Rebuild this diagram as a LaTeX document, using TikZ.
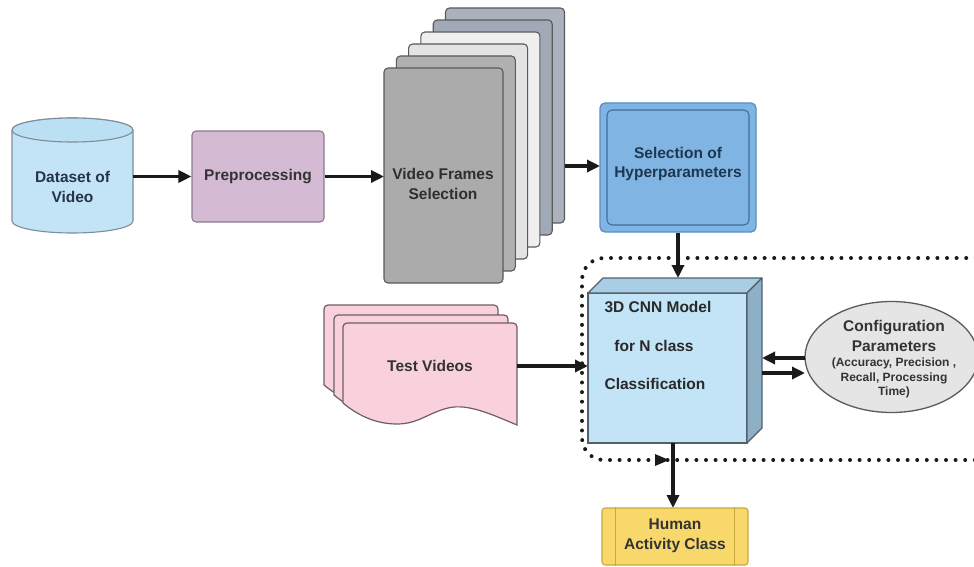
\documentclass[tikz,border=0pt]{standalone}
\usepackage{fontspec}
\setmainfont{Liberation Sans}
\usetikzlibrary{arrows.meta,calc,shapes.geometric}
\definecolor{cylfill}{HTML}{C2E4F6}
\definecolor{cyltop}{HTML}{BCE0F3}
\definecolor{cylline}{HTML}{7D8E98}
\definecolor{prefill}{HTML}{D5BAD4}
\definecolor{preline}{HTML}{8C7C8C}
\definecolor{frA}{HTML}{ABABAB}
\definecolor{frB}{HTML}{B0B0B0}
\definecolor{frC}{HTML}{E3E3E3}
\definecolor{frD}{HTML}{EFEFEF}
\definecolor{frE}{HTML}{A2A9B6}
\definecolor{frF}{HTML}{ABB1BD}
\definecolor{frline}{HTML}{5A5A5A}
\definecolor{hypfill}{HTML}{80B5E3}
\definecolor{hypline}{HTML}{5B8EC2}
\definecolor{hypinner}{HTML}{3F6F9C}
\definecolor{cubefront}{HTML}{C3E4F6}
\definecolor{cubetopc}{HTML}{A8CDE4}
\definecolor{cuberight}{HTML}{8DB0C7}
\definecolor{cubeline}{HTML}{51616C}
\definecolor{conffill}{HTML}{E5E5E5}
\definecolor{confline}{HTML}{5A5A5A}
\definecolor{docfill}{HTML}{F9D1DD}
\definecolor{docline}{HTML}{6E5E64}
\definecolor{humfill}{HTML}{F8D76B}
\definecolor{humline}{HTML}{C9A840}
\definecolor{txtgray}{HTML}{333333}
\definecolor{txtblue}{HTML}{1F3650}
\definecolor{arrcol}{HTML}{1A1A1A}
\begin{document}
\begin{tikzpicture}[x=1pt,y=-1pt,
  txt/.style={font=\fontsize{15.5}{19.5}\selectfont\bfseries, text=txtgray, align=center, inner sep=0pt},
  smalltxt/.style={font=\fontsize{12}{14.5}\selectfont\bfseries, text=txtgray, align=center, inner sep=0pt},
  arr/.style={line width=3.3pt, draw=arrcol, -{Triangle[length=13pt,width=12pt]}},
  framebox/.style={draw=frline, line width=1.1pt, rounded corners=4, minimum width=119, minimum height=215, inner sep=0pt, outer sep=0pt},
  docst/.style={draw=docline, fill=docfill, line width=1.2pt},
  dotline/.style={draw=arrcol, line width=4pt, line cap=round, dash pattern=on 0pt off 9.6pt}
  ]
\useasboundingbox (0,0) rectangle (974,567);
\clip (0,0) rectangle (974,567);
\fill[white] (0,0) rectangle (974,567);

% ---------- cylinder: Dataset of Video ----------
\filldraw[fill=cylfill, draw=cylline, line width=1.1pt]
  (12,130) -- (12,221) arc[start angle=180, end angle=0, x radius=60.5, y radius=12]
  -- (133,130) arc[start angle=360, end angle=180, x radius=60.5, y radius=12] -- cycle;
\filldraw[fill=cyltop, draw=cylline, line width=1.1pt] (72.5,130) ellipse[x radius=60.5, y radius=12];
\node[txt, text=txtblue!70!txtgray, minimum width=121, minimum height=100] (data) at (72.5,187) {Dataset of\\Video};

% ---------- Preprocessing ----------
\node[txt, draw=preline, fill=prefill, line width=1.1pt, rounded corners=4,
      minimum width=132, minimum height=91] (pre) at (258,176.5) {Preprocessing};

% ---------- Video frames stack ----------
\foreach \k/\c in {5/frF,4/frE,3/frD,2/frC,1/frB}{
  \node[framebox, fill=\c] (fr\k) at ({443.5+12.3*\k},{175.5-12*\k}) {};
}
\node[framebox, fill=frA] (frames) at (443.5,175.5) {};
\node[txt, text=txtgray!90!black] (framestxt) at (443,184) {Video Frames\\Selection};

% ---------- Hyperparameters ----------
\node[draw=hypline, fill=hypfill, line width=1.3pt, rounded corners=5,
      minimum width=156, minimum height=129, inner sep=0pt] (hyp) at (678,167.5) {};
\node[draw=hypinner, line width=1.1pt, rounded corners=5,
      minimum width=142, minimum height=115, inner sep=0pt] (hypbox) at (678,167.5) {};
\node[txt, text=txtblue] (hyptxt) at (678,164) {Selection of\\Hyperparameters};

% ---------- dotted loop ----------
\draw[dotline, rounded corners=22] (995,258) -- (582,258) -- (582,460) -- (995,460);
\fill[arrcol] (655,454) -- (669,460) -- (655,466) -- cycle;

% ---------- 3D CNN cube ----------
\node[fill=cubefront, draw=cubeline, line width=1.1pt, minimum width=159, minimum height=150,
      inner sep=0pt, outer sep=0pt] (cnn) at (667.5,368) {};
\filldraw[fill=cubetopc, draw=cubeline, line width=1.1pt, line join=round]
  (cnn.north west) -- ++(15,-15) -- ++(159,0) -- (cnn.north east) -- cycle;
\filldraw[fill=cuberight, draw=cubeline, line width=1.1pt, line join=round]
  (cnn.north east) -- ++(15,-15) -- ++(0,150) -- (cnn.south east) -- cycle;
\coordinate (cubetop) at (678,278);
\coordinate (cubeA) at (762,358);
\coordinate (cubeB) at (762,373);
\coordinate (confA) at (805,358);
\coordinate (confB) at (805,373);
\coordinate (framesout) at (565,166);
\coordinate (hypin) at (600,166);
\node[txt, text=txtgray!80!black] (c1) at (658,307) {3D CNN Model};
\node[txt, text=txtgray!80!black] (c2) at (654,346) {for N class};
\node[txt, text=txtgray!80!black] (c3) at (655,384) {Classification};

% ---------- Configuration parameters ----------
\node[ellipse, draw=confline, fill=conffill, line width=1.3pt,
      minimum width=173, minimum height=111, inner sep=0pt] (conf) at (891.5,357) {};
\node[txt] (k1) at (894,328) {Configuration};
\node[txt] (k2) at (894,346) {Parameters};
\node[smalltxt] (k3) at (894,363) {(Accuracy, Precision ,};
\node[smalltxt] (k4) at (894,378) {Recall, Processing};
\node[smalltxt] (k5) at (894,392) {Time)};

% ---------- Test videos ----------
\foreach \L/\T in {324/305, 334/315, 343/323}{
  \path[docst] (\L,\T+80) [rounded corners=4]-- (\L,\T) -- (\L+174,\T) [sharp corners]-- (\L+174,\T+102)
    .. controls (\L+150,\T+92) and (\L+125,\T+80) .. (\L+105,\T+85)
    .. controls (\L+85,\T+90) and (\L+75,\T+101) .. (\L+54,\T+101)
    .. controls (\L+30,\T+101) and (\L+12,\T+90) .. (\L,\T+80) -- cycle;
}
\node[txt, minimum width=174, minimum height=88] (test) at (430,366) {Test Videos};

% ---------- Human activity class ----------
\node[draw=humline, fill=humfill, line width=1.1pt, rounded corners=3,
      minimum width=146, minimum height=57, inner sep=0pt] (hum) at (675,536.5) {};
\draw[humline, line width=1.1pt] ($(hum.north west)+(14,0)$) -- ($(hum.south west)+(14,0)$);
\draw[humline, line width=1.1pt] ($(hum.north east)+(-14,0)$) -- ($(hum.south east)+(-14,0)$);
\node[txt] (humtxt) at (675,536) {Human\\Activity Class};
\coordinate (cnnout) at (673,443);
\coordinate (humin) at (673,508);

% ---------- connectors ----------
\draw[arr] (data.east |- pre.west) -- (pre.west);
\draw[arr] (pre.east) -- (frames.west |- pre.east);
\draw[arr] (framesout) -- (hypin);
\draw[arr] (hyp.south) -- (cubetop);
\draw[arr] (test.east) -- (cnn.west |- test.east);
\draw[arr] (confA) -- (cubeA);
\draw[arr] (cubeB) -- (confB);
\draw[arr] (cnnout) -- (humin);
\end{tikzpicture}
\end{document}
